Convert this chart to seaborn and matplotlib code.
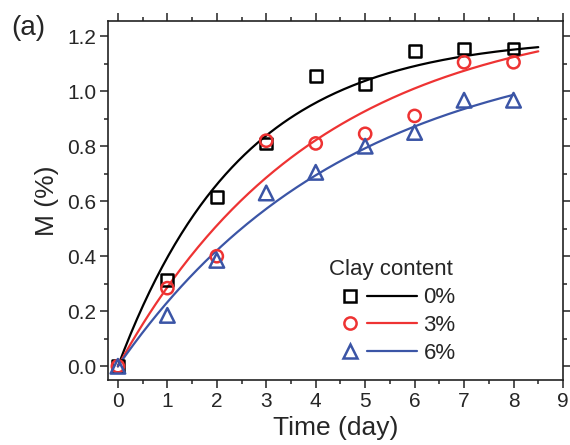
import numpy as np
import pandas as pd
import matplotlib
matplotlib.use("Agg")
import matplotlib.pyplot as plt
import seaborn as sns
from matplotlib.lines import Line2D
from matplotlib.legend_handler import HandlerTuple
from matplotlib.ticker import MultipleLocator

# measured data (day, M %)
days = [0, 1, 2, 3, 4, 5, 6, 7, 8]
m_clay0 = [0.0, 0.315, 0.615, 0.81, 1.055, 1.025, 1.145, 1.155, 1.155]
m_clay3 = [0.0, 0.284, 0.40, 0.82, 0.81, 0.845, 0.91, 1.105, 1.105]
m_clay6 = [0.0, 0.185, 0.385, 0.63, 0.705, 0.80, 0.85, 0.967, 0.967]

# fitted curves M = a * (1 - exp(-k t))
labels = ["0%", "3%", "6%"]
fit_a = [1.20, 1.30, 1.20]
fit_k = [0.40, 0.25, 0.216]
fit_tmax = [8.5, 8.5, 8.0]

colors = ["#000000", "#EE3333", "#3B55A6"]
markers = ["s", "o", "^"]
msizes = [8.5, 8.8, 10.5]

sns.set_theme(style="ticks")
plt.rcParams["font.family"] = ["Liberation Sans", "DejaVu Sans"]

fig, ax = plt.subplots(figsize=(5.7, 4.45), dpi=100)
fig.subplots_adjust(left=0.1895, right=0.9877, top=0.9528, bottom=0.146)

series = [m_clay0, m_clay3, m_clay6]
handles = []
for vals, lab, a, k, tmax, col, mk, ms in zip(series, labels, fit_a, fit_k,
                                             fit_tmax, colors, markers, msizes):
    t = np.linspace(0, tmax, 200)
    curve = pd.DataFrame({"t": t, "M": a * (1 - np.exp(-k * t))})
    sns.lineplot(data=curve, x="t", y="M", color=col, lw=1.6, ax=ax)
    sns.scatterplot(x=days, y=vals, marker=mk, s=ms ** 2, facecolor="none",
                    edgecolor=col, linewidth=1.8, ax=ax, zorder=3)
    h_mark = Line2D([], [], ls="", marker=mk, ms=ms, mfc="none", mec=col, mew=1.8)
    h_line = Line2D([], [], color=col, lw=1.6)
    handles.append((h_mark, h_line))

ax.set_xlim(-0.2, 9)
ax.set_ylim(-0.05, 1.255)
ax.xaxis.set_major_locator(MultipleLocator(1))
ax.xaxis.set_minor_locator(MultipleLocator(0.5))
ax.yaxis.set_major_locator(MultipleLocator(0.2))
ax.yaxis.set_minor_locator(MultipleLocator(0.1))
ax.set_yticks(np.arange(0, 1.21, 0.2))
ax.set_yticklabels([f"{v:.1f}" for v in np.arange(0, 1.21, 0.2)])

ax.tick_params(which="both", direction="out", top=True, right=True,
               labeltop=False, labelright=False, width=1.1, color="#222222",
               labelsize=15, pad=3)
ax.tick_params(which="major", length=5.5)
ax.tick_params(which="minor", length=3)
for sp in ax.spines.values():
    sp.set_linewidth(1.2)
    sp.set_color("#222222")

ax.set_xlabel("Time (day)", fontsize=19, labelpad=4)
ax.set_ylabel("M (%)", fontsize=19, labelpad=6)

leg = ax.legend(handles, labels, title="Clay content", fontsize=16,
                title_fontsize=16, frameon=False, loc="upper left",
                bbox_to_anchor=(0.478, 0.336), borderaxespad=0, borderpad=0,
                handlelength=4.14, handletextpad=0.27, labelspacing=0.31,
                handler_map={tuple: HandlerTuple(ndivide=None, pad=-0.36)})

fig.text(0.02, 0.938, "(a)", fontsize=20, va="center", ha="left")

fig.savefig("out.png", dpi=100)
